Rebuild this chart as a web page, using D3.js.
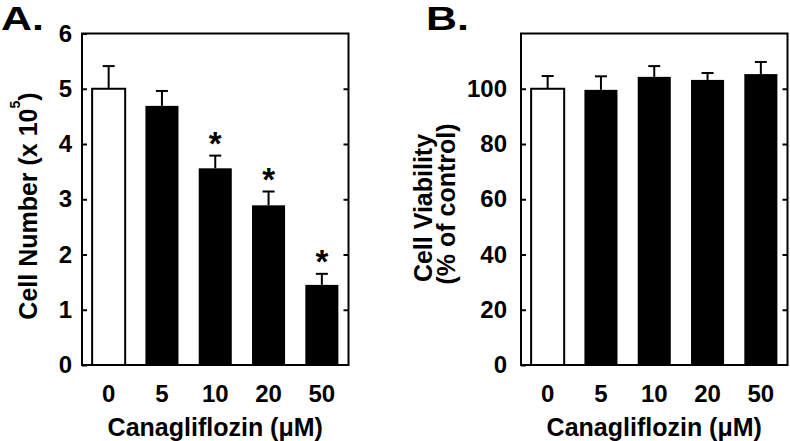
<!DOCTYPE html>
<html><head><meta charset="utf-8">
<script src="https://cdn.jsdelivr.net/npm/d3@7"></script>
<style>
html,body{margin:0;padding:0;background:#fff;}
svg{display:block;}
text{font-family:"Liberation Sans",Arial,sans-serif;font-weight:bold;fill:#000;}
</style></head>
<body>
<svg id="chart" width="790" height="441"></svg>
<script>
const categories = ["0", "5", "10", "20", "50"];
const cellNumber = [5.0, 4.69, 3.56, 2.89, 1.45];
const cellNumberErr = [0.41, 0.27, 0.23, 0.25, 0.20];
const significant = [false, false, true, true, true];
const viability = [100, 99.6, 104.3, 103.2, 105.3];
const viabilityErr = [4.6, 4.9, 3.9, 2.5, 4.4];
const yTicksA = [0, 1, 2, 3, 4, 5, 6];
const yTicksB = [0, 20, 40, 60, 80, 100];
const xTitle = "Canagliflozin (\u03BCM)";

const svg = d3.select("#chart");
const plotTop = 33.5, plotBottom = 365;

function panel(opts) {
  const g = svg.append("g");
  const x = d3.scaleBand().domain(categories).range([opts.left, opts.right]).paddingInner(0.38).paddingOuter(0.19);
  const y = d3.scaleLinear().domain([0, opts.ymax]).range([plotBottom, plotTop]);

  g.selectAll("rect.bar").data(opts.values).join("rect")
    .attr("class", "bar")
    .attr("x", (d, i) => x(categories[i]))
    .attr("width", x.bandwidth())
    .attr("y", d => y(d))
    .attr("height", d => y(0) - y(d))
    .attr("fill", (d, i) => i === 0 ? "#fff" : "#000")
    .attr("stroke", "#000")
    .attr("stroke-width", (d, i) => i === 0 ? 2 : 0);

  const eg = g.selectAll("g.err").data(opts.values).join("g").attr("class", "err");
  eg.append("line")
    .attr("x1", (d, i) => x(categories[i]) + x.bandwidth() / 2)
    .attr("x2", (d, i) => x(categories[i]) + x.bandwidth() / 2)
    .attr("y1", d => y(d))
    .attr("y2", (d, i) => y(d + opts.errs[i]))
    .attr("stroke", "#000").attr("stroke-width", 2);
  eg.append("line")
    .attr("x1", (d, i) => x(categories[i]) + x.bandwidth() / 2 - 6)
    .attr("x2", (d, i) => x(categories[i]) + x.bandwidth() / 2 + 6)
    .attr("y1", (d, i) => y(d + opts.errs[i]))
    .attr("y2", (d, i) => y(d + opts.errs[i]))
    .attr("stroke", "#000").attr("stroke-width", 2);

  if (opts.sig) {
    const idx = opts.values.map((d, i) => i).filter(i => opts.sig[i]);
    g.selectAll("text.sig").data(idx).join("text")
      .attr("class", "sig")
      .attr("x", i => x(categories[i]) + x.bandwidth() / 2)
      .attr("y", i => y(opts.values[i] + opts.errs[i]) - 1)
      .attr("text-anchor", "middle")
      .style("font-size", "33px")
      .text("*");
  }

  const la = g.append("g").attr("transform", `translate(${opts.left},0)`)
    .call(d3.axisLeft(y).tickValues(opts.ticks).tickSize(-5).tickPadding(opts.pad).tickFormat(d3.format("d")));
  la.select(".domain").remove();
  la.selectAll("line").attr("stroke", "#000").attr("stroke-width", 2);
  la.selectAll("text").style("font-size", "24px").attr("fill", "#000");

  const ra = g.append("g").attr("transform", `translate(${opts.right},0)`)
    .call(d3.axisRight(y).tickValues(opts.ticks.filter(t => t > 0 && t < opts.ymax)).tickSize(-5).tickFormat(""));
  ra.select(".domain").remove();
  ra.selectAll("line").attr("stroke", "#000").attr("stroke-width", 2);

  const ba = g.append("g").attr("transform", `translate(0,${plotBottom})`)
    .call(d3.axisBottom(x).tickSize(0).tickPadding(20));
  ba.select(".domain").remove();
  ba.selectAll("text").style("font-size", "24px").attr("fill", "#000");

  g.append("rect")
    .attr("x", opts.left).attr("y", plotTop)
    .attr("width", opts.right - opts.left).attr("height", plotBottom - plotTop)
    .attr("fill", "none").attr("stroke", "#000").attr("stroke-width", 2);

  g.append("text")
    .attr("x", (opts.left + opts.right) / 2).attr("y", 436)
    .attr("text-anchor", "middle")
    .style("font-size", "25px")
    .text(xTitle);

  g.append("text")
    .attr("transform", `translate(${opts.letterX},29.5) scale(1.3,1)`)
    .style("font-size", "33px")
    .text(opts.letter);

  return g;
}

const gA = panel({left: 82, right: 348.5, ymax: 6, values: cellNumber, errs: cellNumberErr,
  sig: significant, ticks: yTicksA, pad: 10, letter: "A.", letterX: 1});
const gB = panel({left: 521, right: 787.5, ymax: 120, values: viability, errs: viabilityErr,
  sig: null, ticks: yTicksB, pad: 14, letter: "B.", letterX: 426});

const tA = gA.append("text")
  .attr("transform", "translate(36.5,206) rotate(-90)")
  .attr("text-anchor", "middle")
  .style("font-size", "25px");
tA.append("tspan").text("Cell Number (x 10");
tA.append("tspan").attr("dy", -17).style("font-size", "14px").text("5");
tA.append("tspan").attr("dy", 17).text(")");

gB.append("text")
  .attr("transform", "translate(432,208) rotate(-90)")
  .attr("text-anchor", "middle")
  .style("font-size", "25px")
  .text("Cell Viability");
gB.append("text")
  .attr("transform", "translate(454.5,204) rotate(-90)")
  .attr("text-anchor", "middle")
  .style("font-size", "25px")
  .text("(% of control)");
</script>
</body></html>
